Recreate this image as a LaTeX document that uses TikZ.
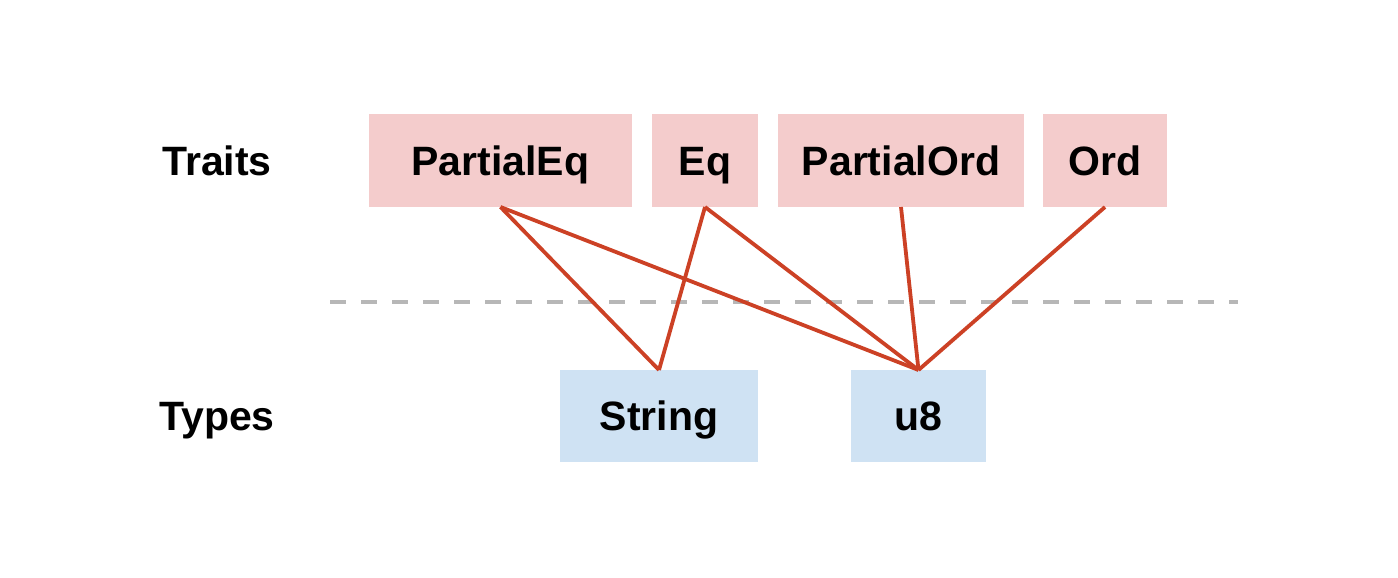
\documentclass[tikz,border=0pt]{standalone}
\usepackage{fontspec}
\setmainfont{Liberation Sans}
\definecolor{traitfill}{HTML}{F4CCCC}
\definecolor{typefill}{HTML}{CFE2F3}
\definecolor{linkred}{HTML}{CC4125}
\definecolor{dashgray}{HTML}{B7B7B7}
\begin{document}
\begin{tikzpicture}[x=1pt,y=-1pt,
  box/.style={inner sep=0pt,outer sep=0pt,font=\fontsize{41}{48}\selectfont\bfseries,text height=29.4pt,text depth=0pt},
  trait/.style={box,fill=traitfill},
  typ/.style={box,fill=typefill},
  lbl/.style={box},
  link/.style={draw=linkred,line width=3.8pt}]
\useasboundingbox (0,0) rectangle (1398,578);
\node[trait,minimum width=263pt,minimum height=93pt] (peq) at (500.5,160.5) {PartialEq};
\node[trait,minimum width=106pt,minimum height=93pt] (eq) at (705,160.5) {Eq};
\node[trait,minimum width=246pt,minimum height=93pt] (pord) at (901,160.5) {PartialOrd};
\node[trait,minimum width=124pt,minimum height=93pt] (ord) at (1105,160.5) {Ord};
\node[typ,minimum width=198pt,minimum height=92pt] (str) at (659,416) {String};
\node[typ,minimum width=135pt,minimum height=92pt] (u8) at (918.5,416) {u8};
\node[lbl] (traits) at (217,160.5) {Traits};
\node[lbl] (types) at (217,416) {Types};
\coordinate (dl) at (330,302);
\coordinate (dr) at (1238,302);
\draw[dashgray,line width=3.5pt,dash pattern=on 16pt off 15pt] (dl) -- (dr);
\draw[link] (peq.south) -- (str.north);
\draw[link] (peq.south) -- (u8.north);
\draw[link] (eq.south) -- (str.north);
\draw[link] (eq.south) -- (u8.north);
\draw[link] (pord.south) -- (u8.north);
\draw[link] (ord.south) -- (u8.north);
\end{tikzpicture}
\end{document}
